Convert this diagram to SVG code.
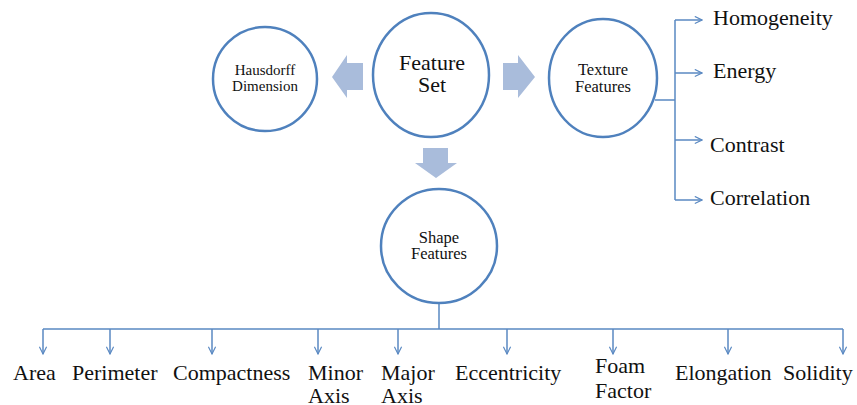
<svg xmlns="http://www.w3.org/2000/svg" width="857" height="405" viewBox="0 0 857 405">
<style>
.node{fill:#fff;stroke:#4F81BD;stroke-width:2.5}
.blk{fill:#A9BCDB}
.con{fill:none;stroke:#5A89C2;stroke-width:1.5}
text{font-family:'Liberation Serif','Times New Roman','DejaVu Serif',serif;fill:#111}
.lbl{font-size:22px}
.big{font-size:22px;text-anchor:middle}
.sm{font-size:15px;text-anchor:middle}
.md{font-size:16.5px;text-anchor:middle}
</style>
<defs>
<marker id="ah" viewBox="0 0 10 10" refX="9" refY="5" markerWidth="9" markerHeight="9" markerUnits="userSpaceOnUse" orient="auto">
<path d="M1,1 L9,5 L1,9" fill="none" stroke="#5A89C2" stroke-width="1.3"/>
</marker>
</defs>
<rect width="857" height="405" fill="#fff"/>
<g id="blockarrows">
<polygon class="blk" points="363,63 347,63 347,55 332,77 347,98 347,90 363,90"/>
<polygon class="blk" points="503,63 518,63 518,55 535,77 518,98 518,90 503,90"/>
<polygon class="blk" points="423,148 448,148 448,163 457,163 436,178 415,163 423,163"/>
</g>
<g id="connectors">
<path class="con" d="M655,100 H675 M675,20 V200"/>
<path class="con" marker-end="url(#ah)" d="M675,20 H702"/>
<path class="con" marker-end="url(#ah)" d="M675,73 H702"/>
<path class="con" marker-end="url(#ah)" d="M675,140 H702"/>
<path class="con" marker-end="url(#ah)" d="M675,200 H702"/>
<path class="con" d="M439,303 V329 M43,329 H843"/>
<path class="con" marker-end="url(#ah)" d="M43,329 V354"/>
<path class="con" marker-end="url(#ah)" d="M110,329 V354"/>
<path class="con" marker-end="url(#ah)" d="M212,329 V354"/>
<path class="con" marker-end="url(#ah)" d="M318,329 V354"/>
<path class="con" marker-end="url(#ah)" d="M398,329 V354"/>
<path class="con" marker-end="url(#ah)" d="M507,329 V354"/>
<path class="con" marker-end="url(#ah)" d="M613,329 V354"/>
<path class="con" marker-end="url(#ah)" d="M728,329 V354"/>
<path class="con" marker-end="url(#ah)" d="M843,329 V354"/>
</g>
<g id="hausdorff">
<ellipse class="node" cx="265" cy="79" rx="52" ry="52"/>
<text class="sm" x="265" y="75">Hausdorff</text>
<text class="sm" x="265" y="91">Dimension</text>
</g>
<g id="featureset">
<ellipse class="node" cx="431" cy="75" rx="58" ry="62"/>
<text class="big" x="432" y="70">Feature</text>
<text class="big" x="432" y="92">Set</text>
</g>
<g id="texture">
<ellipse class="node" cx="603" cy="78" rx="54" ry="59"/>
<text class="md" x="603" y="75">Texture</text>
<text class="md" x="603" y="92">Features</text>
</g>
<g id="shape">
<ellipse class="node" cx="439" cy="246" rx="58" ry="57"/>
<text class="md" x="439" y="243">Shape</text>
<text class="md" x="439" y="259">Features</text>
</g>
<g id="texture-items">
<text class="lbl" x="713" y="25">Homogeneity</text>
<text class="lbl" x="713" y="78">Energy</text>
<text class="lbl" x="710" y="152">Contrast</text>
<text class="lbl" x="710" y="205">Correlation</text>
</g>
<g id="shape-items">
<text class="lbl" x="13" y="380">Area</text>
<text class="lbl" x="72" y="380">Perimeter</text>
<text class="lbl" x="173" y="380">Compactness</text>
<text class="lbl" x="308" y="380">Minor</text>
<text class="lbl" x="308" y="403">Axis</text>
<text class="lbl" x="381" y="380">Major</text>
<text class="lbl" x="381" y="403">Axis</text>
<text class="lbl" x="455" y="380">Eccentricity</text>
<text class="lbl" x="595" y="373">Foam</text>
<text class="lbl" x="595" y="398">Factor</text>
<text class="lbl" x="675" y="380">Elongation</text>
<text class="lbl" x="783" y="380">Solidity</text>
</g>
</svg>
